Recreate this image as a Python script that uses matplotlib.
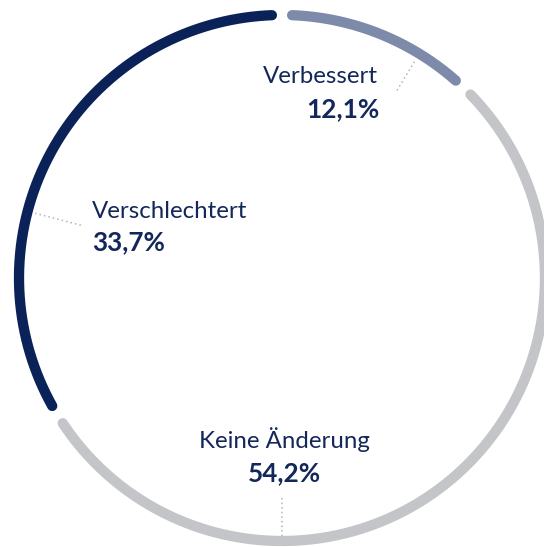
import numpy as np
import matplotlib
matplotlib.use("Agg")
import matplotlib.pyplot as plt

# data
labels = ["Verbessert", "Keine Änderung", "Verschlechtert"]
values = [12.1, 54.2, 33.7]
colors = ["#7d8aa9", "#c4c5c9", "#0b2259"]

W, H = 544, 547
cx, cy, r = 282, 278, 263
gap = 2.2  # half gap in degrees
text_color = "#13275a"

fig = plt.figure(figsize=(W / 100, H / 100), dpi=100)
ax = fig.add_axes([0, 0, 1, 1])
ax.set_xlim(0, W)
ax.set_ylim(H, 0)
ax.axis("off")


def pt(angle, rad):
    # angle in degrees, clockwise from 12 o'clock
    a = np.radians(angle)
    return cx + rad * np.sin(a), cy - rad * np.cos(a)


start = 0.0
for v, c in zip(values, colors):
    end = start + v / 100 * 360
    ang = np.linspace(start + gap, end - gap, 300)
    x, y = pt(ang, r)
    ax.plot(x, y, color=c, lw=7.4, solid_capstyle="round")
    start = end

# leader lines (angle, inner radius, outer radius)
leaders = [(31.5, 220, 256), (284.7, 208, 255), (180, 220, 258)]
for a, r0, r1 in leaders:
    x0, y0 = pt(a, r0)
    x1, y1 = pt(a, r1)
    ax.plot([x0, x1], [y0, y1], color="#b4b4b4", lw=1.1, ls=(0, (1, 2)))

font = "Lato"
name_size = 17.3
pct_size = 18.8
# label texts: (x, y of name baseline, alignment)
ax.text(378, 83, "Verbessert", ha="right", va="baseline", fontsize=name_size,
        family=font, color=text_color)
ax.text(379, 117, "12,1%", ha="right", va="baseline", fontsize=pct_size,
        family=font, weight="bold", color=text_color)
ax.text(92, 218, "Verschlechtert", ha="left", va="baseline", fontsize=name_size,
        family=font, color=text_color)
ax.text(92, 250, "33,7%", ha="left", va="baseline", fontsize=pct_size,
        family=font, weight="bold", color=text_color)
ax.text(284, 448, "Keine Änderung", ha="center", va="baseline", fontsize=name_size,
        family=font, color=text_color)
ax.text(284, 481, "54,2%", ha="center", va="baseline", fontsize=pct_size,
        family=font, weight="bold", color=text_color)

fig.savefig("out.png", dpi=100)
